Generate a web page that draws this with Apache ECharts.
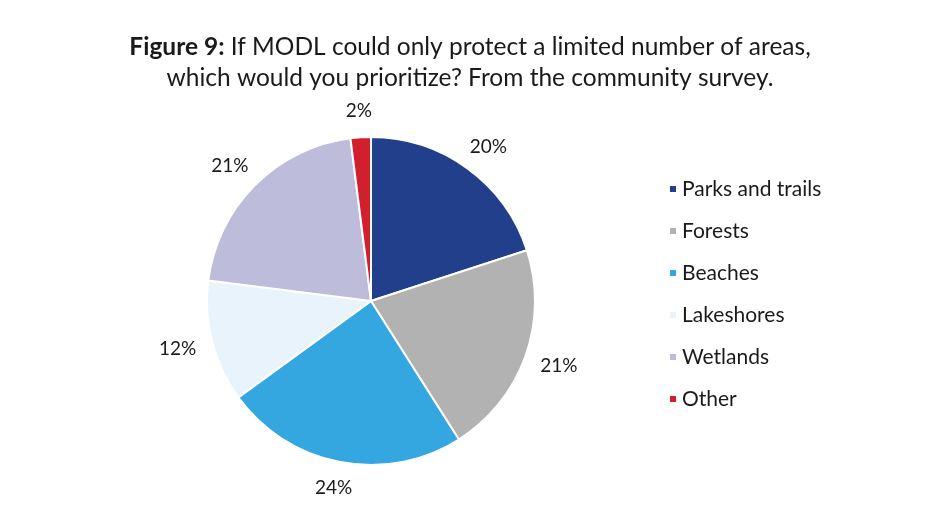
<!DOCTYPE html>
<html>
<head>
<meta charset="utf-8">
<script src="https://cdn.jsdelivr.net/npm/echarts@6/dist/echarts.min.js"></script>
<style>
  html, body { margin: 0; padding: 0; background: #ffffff; }
  #chart { width: 927px; height: 508px; }
</style>
</head>
<body>
<div id="chart"></div>
<script>
// Survey answers: share of respondents per area (percent)
const categories = ['Parks and trails', 'Forests', 'Beaches', 'Lakeshores', 'Wetlands', 'Other'];
const shares = [20, 21, 24, 12, 21, 2];
const colors = ['#223f8c', '#b2b2b2', '#34a6e0', '#e8f3fb', '#bdbcdb', '#d11f2d'];

const FONT = 'Lato, "Open Sans", sans-serif';
const pieCenter = [371, 301];
const pieRadius = 164;
const labelGap = 17;

// mid-angle of each slice (clockwise from 12 o'clock), derived from the data
const total = shares.reduce((a, b) => a + b, 0);
const midAngles = [];
let acc = 0;
shares.forEach(v => {
  midAngles.push((acc + v / 2) / total * 2 * Math.PI);
  acc += v;
});

const chart = echarts.init(document.getElementById('chart'));
chart.setOption({
  backgroundColor: '#ffffff',
  animation: false,
  title: {
    left: 465,
    top: 27,
    textAlign: 'center',
    text: '{b|Figure 9:} If MODL could only protect a limited number of areas,\nwhich would you prioritize? From the community survey.',
    textStyle: {
      fontFamily: FONT,
      fontSize: 24.5,
      fontWeight: 'normal',
      color: '#1a1a1a',
      lineHeight: 31,
      rich: {
        b: { fontFamily: FONT, fontSize: 24.5, fontWeight: 'bold', color: '#1a1a1a', lineHeight: 31 }
      }
    }
  },
  legend: {
    orient: 'vertical',
    left: 663,
    top: 173,
    icon: 'rect',
    itemWidth: 8,
    itemHeight: 8,
    itemGap: 20,
    data: categories,
    textStyle: { fontFamily: FONT, fontSize: 21, color: '#1a1a1a', lineHeight: 22 }
  },
  series: [{
    type: 'pie',
    center: pieCenter,
    radius: pieRadius,
    startAngle: 90,
    clockwise: true,
    data: categories.map((name, i) => ({ name, value: shares[i], itemStyle: { color: colors[i] } })),
    itemStyle: { borderColor: '#ffffff', borderWidth: 2 },
    label: {
      show: true,
      position: 'outside',
      formatter: p => p.value + '%',
      fontFamily: FONT,
      fontSize: 19,
      color: '#1a1a1a'
    },
    labelLine: { show: false },
    labelLayout: function (params) {
      const a = midAngles[params.dataIndex];
      const dx = Math.sin(a), dy = -Math.cos(a);
      const w = params.labelRect.width, h = params.labelRect.height;
      const r = pieRadius + labelGap;
      return {
        x: pieCenter[0] + dx * (r + w / 2),
        y: pieCenter[1] + dy * (r + h / 2),
        align: 'center',
        verticalAlign: 'middle'
      };
    }
  }]
});
</script>
</body>
</html>
